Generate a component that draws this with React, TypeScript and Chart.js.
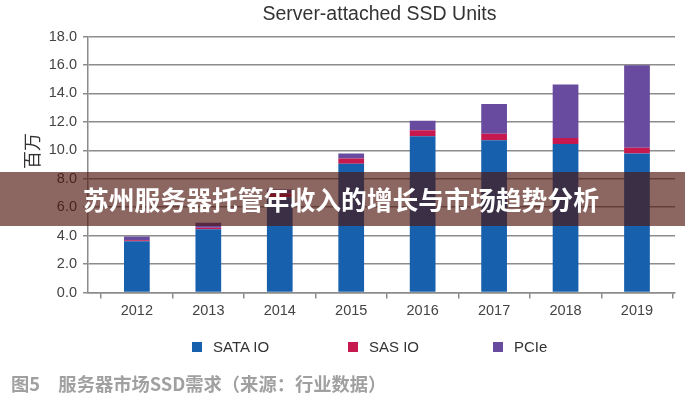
import React, { useEffect, useRef } from "react";
import { Chart, registerables } from "chart.js";

Chart.register(...registerables);

// ---- data ----
const years = ["2012", "2013", "2014", "2015", "2016", "2017", "2018", "2019"];
const seriesNames = ["SATA IO", "SAS IO", "PCIe"];
const sataIO = [3.6, 4.45, 6.7, 9.05, 10.98, 10.7, 10.45, 9.78];
const sasIO = [0.08, 0.1, 0.25, 0.37, 0.42, 0.47, 0.42, 0.4];
const pcie = [0.25, 0.35, 0.3, 0.35, 0.67, 2.08, 3.76, 5.8];
const seriesColors = ["#1660ad", "#c5194f", "#684a9e"];
const chartTitle = "Server-attached SSD Units";
const yAxisTitle = "百万";
const bannerText = "苏州服务器托管年收入的增长与市场趋势分析";
const captionText = "图5\u3000服务器市场SSD需求（来源：行业数据）";

const GRID = "#8c8c8c";
const FONT = '"Liberation Sans", Arial, Helvetica, sans-serif';
const CJK = '"Noto Sans CJK SC", "Noto Sans", sans-serif';
const X_MIN = 2011.316;
const X_MAX = 2019.532;

export default function App() {
  const ref = useRef<HTMLCanvasElement>(null);

  useEffect(() => {
    const values = [sataIO, sasIO, pcie];
    const yearNums = years.map((y) => Number(y));
    const chart = new Chart(ref.current as HTMLCanvasElement, {
      type: "bar",
      data: {
        datasets: seriesNames.map((name, k) => ({
          label: name,
          data: yearNums.map((x, i) => ({ x, y: values[k][i] })),
          backgroundColor: seriesColors[k],
          borderWidth: 0,
          grouped: false,
          maxBarThickness: 29,
        })),
      },
      options: {
        animation: false,
        responsive: false,
        maintainAspectRatio: false,
        layout: { padding: { top: 36.5, right: 10, bottom: 77.5, left: 0 } },
        plugins: {
          legend: { display: false },
          title: { display: false },
          tooltip: { enabled: false },
        },
        scales: {
          x: {
            type: "linear",
            bounds: "data",
            offset: false,
            min: X_MIN,
            max: X_MAX,
            afterDataLimits: (scale: any) => {
              scale.min = X_MIN;
              scale.max = X_MAX;
            },
            afterBuildTicks: (scale: any) => {
              const t: any[] = [];
              yearNums.forEach((y) => {
                t.push({ value: y - 0.5 });
                t.push({ value: y });
              });
              t.push({ value: yearNums[yearNums.length - 1] + 0.5 });
              scale.ticks = t.filter((o) => o.value >= X_MIN && o.value <= X_MAX);
              scale.min = X_MIN;
              scale.max = X_MAX;
            },
            afterFit: (scale: any) => {
              scale.height = 30;
            },
            ticks: {
              autoSkip: false,
              maxRotation: 0,
              includeBounds: false,
              padding: 4,
              color: "#444",
              font: { family: FONT, size: 14.5 },
              callback: (v: any) => (Number.isInteger(v) ? String(v) : ""),
            },
            grid: {
              offset: false,
              drawOnChartArea: false,
              drawTicks: true,
              tickLength: 6,
              lineWidth: 1.5,
              color: (ctx: any) =>
                ctx.tick && Number.isInteger(ctx.tick.value) ? "rgba(0,0,0,0)" : GRID,
            },
            border: { display: true, color: GRID, width: 1.5 },
          },
          y: {
            stacked: true,
            min: 0,
            max: 18,
            afterFit: (scale: any) => {
              scale.width = 88;
            },
            ticks: {
              stepSize: 2,
              padding: 6,
              color: "#444",
              font: { family: FONT, size: 14.5 },
              callback: (v: any) => Number(v).toFixed(1),
            },
            grid: {
              color: GRID,
              lineWidth: 1.5,
              drawTicks: true,
              tickLength: 5,
            },
            border: { display: true, color: GRID, width: 1.5 },
          },
        },
      },
    } as any);
    return () => chart.destroy();
  }, []);

  const legendX = [192, 348, 493];

  return (
    <div
      style={{
        position: "absolute",
        left: 0,
        top: 0,
        width: 685,
        height: 400,
        overflow: "hidden",
        background: "#ffffff",
        fontFamily: FONT,
      }}
    >
      <canvas
        ref={ref}
        width={685}
        height={400}
        style={{ position: "absolute", left: 0, top: 0, width: 685, height: 400 }}
      />
      <div
        style={{
          position: "absolute",
          left: 0,
          top: 0,
          width: 759,
          height: 27,
          lineHeight: "27px",
          textAlign: "center",
          fontSize: 19.5,
          color: "#333",
          whiteSpace: "nowrap",
        }}
      >
        {chartTitle}
      </div>
      <div
        style={{
          position: "absolute",
          left: 30.5,
          top: 151,
          transform: "translate(-50%, -50%) rotate(-90deg)",
          fontFamily: CJK,
          fontSize: 18,
          color: "#333",
          whiteSpace: "nowrap",
          lineHeight: "20px",
        }}
      >
        {yAxisTitle}
      </div>
      {seriesNames.map((name, k) => (
        <div key={name}>
          <div
            style={{
              position: "absolute",
              left: legendX[k],
              top: 342,
              width: 10,
              height: 10,
              background: seriesColors[k],
            }}
          />
          <div
            style={{
              position: "absolute",
              left: legendX[k] + 21,
              top: 337,
              height: 20,
              lineHeight: "20px",
              fontSize: 15,
              color: "#333",
              whiteSpace: "nowrap",
            }}
          >
            {name}
          </div>
        </div>
      ))}
      <div
        style={{
          position: "absolute",
          left: 0,
          top: 172,
          width: 685,
          height: 54,
          background: "rgba(78, 22, 14, 0.65)",
        }}
      />
      <div
        style={{
          position: "absolute",
          left: 83,
          top: 172,
          height: 54,
          lineHeight: "54px",
          fontFamily: CJK,
          fontWeight: 700,
          fontSize: 25.8,
          color: "#ffffff",
          whiteSpace: "nowrap",
        }}
      >
        {bannerText}
      </div>
      <div
        style={{
          position: "absolute",
          left: 11,
          top: 371,
          height: 24,
          lineHeight: "24px",
          fontFamily: CJK,
          fontWeight: 700,
          fontSize: 18.3,
          color: "#a0a0a0",
          whiteSpace: "nowrap",
        }}
      >
        {captionText}
      </div>
    </div>
  );
}
